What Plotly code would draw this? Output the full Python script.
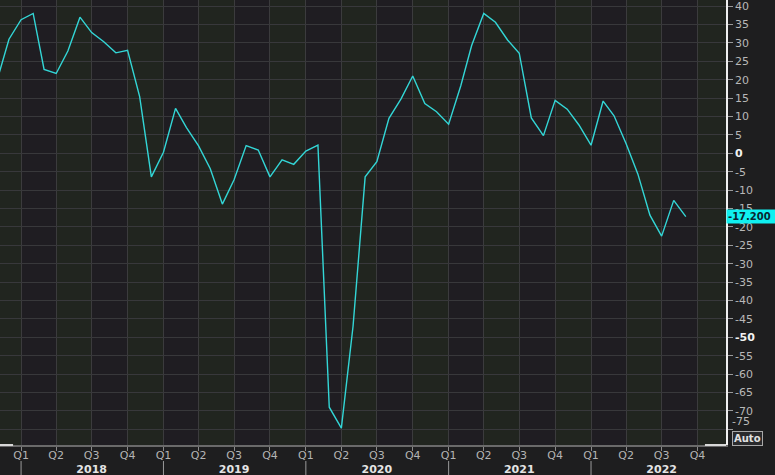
import plotly.graph_objects as go

# ---- data (monthly index) ----
months = [
    "2017-11-01", "2017-12-01",
    "2018-01-01", "2018-02-01", "2018-03-01", "2018-04-01", "2018-05-01", "2018-06-01",
    "2018-07-01", "2018-08-01", "2018-09-01", "2018-10-01", "2018-11-01", "2018-12-01",
    "2019-01-01", "2019-02-01", "2019-03-01", "2019-04-01", "2019-05-01", "2019-06-01",
    "2019-07-01", "2019-08-01", "2019-09-01", "2019-10-01", "2019-11-01", "2019-12-01",
    "2020-01-01", "2020-02-01", "2020-03-01", "2020-04-01", "2020-05-01", "2020-06-01",
    "2020-07-01", "2020-08-01", "2020-09-01", "2020-10-01", "2020-11-01", "2020-12-01",
    "2021-01-01", "2021-02-01", "2021-03-01", "2021-04-01", "2021-05-01", "2021-06-01",
    "2021-07-01", "2021-08-01", "2021-09-01", "2021-10-01", "2021-11-01", "2021-12-01",
    "2022-01-01", "2022-02-01", "2022-03-01", "2022-04-01", "2022-05-01", "2022-06-01",
    "2022-07-01", "2022-08-01", "2022-09-01",
]
values = [
    20.0, 31.0,
    36.3, 38.0, 22.8, 21.7, 27.8, 37.0,
    32.8, 30.3, 27.3, 28.0, 15.4, -6.4,
    0.3, 12.2, 7.0, 2.0, -4.2, -13.8,
    -7.2, 2.1, 0.9, -6.4, -1.8, -3.0,
    0.6, 2.2, -69.0, -74.7, -47.0, -6.4,
    -2.3, 9.5, 14.8, 21.0, 13.5, 11.3,
    7.9, 18.3, 29.3, 38.0, 35.6, 30.8,
    27.2, 9.6, 4.8, 14.4, 12.0, 7.7,
    2.2, 14.2, 10.2, 2.6, -5.6, -16.8,
    -22.5, -12.8, -17.2,
]
years = [2018, 2019, 2020, 2021, 2022]
quarters = ["Q1", "Q2", "Q3", "Q4"]
quarter_months = ["01", "04", "07", "10"]
y_ticks = list(range(-75, 45, 5))
bold_ticks = [0, -50]
last_label = "-17.200"

# ---- tick construction ----
q_vals, q_text = [], []
for yr in years:
    for q, mo in zip(quarters, quarter_months):
        q_vals.append(f"{yr}-{mo}-01")
        if q == "Q3":
            q_text.append(f"{q}<br><span style='color:#e4e4e4'><b>{yr}</b></span>")
        else:
            q_text.append(q)

y_text = []
for v in y_ticks:
    if v == -75:
        y_text.append("")
    elif v in bold_ticks:
        y_text.append(f"<span style='color:#f2f2f2'><b>{v}</b></span>")
    else:
        y_text.append(str(v))

fig = go.Figure()
fig.add_trace(go.Scatter(
    x=months, y=values, mode="lines",
    line=dict(color="#33d6d6", width=1.4),
    hoverinfo="skip",
))

shapes = []
# alternating quarter bands
band_starts = ["2017-10-01"] + q_vals
band_ends = q_vals + ["2023-01-01"]
for a, b in zip(band_starts, band_ends):
    if a[5:7] in ("04", "10"):
        shapes.append(dict(type="rect", xref="x", yref="paper", x0=a, x1=b, y0=0, y1=1,
                           fillcolor="#21251f", line=dict(width=0), layer="below"))
# year separators below the axis
for yr in years:
    shapes.append(dict(type="line", xref="x", yref="paper", x0=f"{yr}-01-01", x1=f"{yr}-01-01",
                       y0=-0.036, y1=-0.075, line=dict(color="#9a9a9a", width=1)))
# bright segments of the bottom axis line
shapes.append(dict(type="line", xref="paper", yref="paper", x0=0, x1=0.018, y0=0, y1=0,
                   line=dict(color="#d8d8d8", width=2)))
shapes.append(dict(type="line", xref="paper", yref="paper", x0=0.971, x1=1, y0=0, y1=0,
                   line=dict(color="#d8d8d8", width=2)))

font_family = "DejaVu Sans"

fig.update_layout(
    width=775, height=475,
    margin=dict(l=0, r=49, t=0, b=30, autoexpand=False),
    paper_bgcolor="#1e1e1f",
    plot_bgcolor="#1f1d22",
    showlegend=False,
    shapes=shapes,
    font=dict(family=font_family, size=11, color="#b8b8b8"),
    xaxis=dict(
        type="date",
        range=["2017-11-08", "2022-12-13"],
        tickmode="array", tickvals=q_vals, ticktext=q_text,
        ticks="outside", ticklen=4, tickcolor="#8a8a8a",
        ticklabelstandoff=-5,
        showgrid=True, gridcolor="#3b3b3d", gridwidth=1,
        showline=True, linecolor="#6a6a6a", linewidth=1.5,
        zeroline=False, automargin=False, ticklabeloverflow="allow",
        tickfont=dict(family=font_family, size=11, color="#b4b4b4"),
        fixedrange=True,
    ),
    yaxis=dict(
        side="right",
        range=[-79.27, 41.66],
        tickmode="array", tickvals=y_ticks, ticktext=y_text,
        ticks="outside", ticklen=5, tickcolor="#9a9a9a",
        showgrid=True, gridcolor="#38383b", gridwidth=1,
        showline=True, linecolor="#f0f0f0", linewidth=1.5,
        zeroline=False, automargin=False, ticklabeloverflow="allow",
        tickfont=dict(family=font_family, size=11, color="#b8b8b8"),
        fixedrange=True,
    ),
    annotations=[
        dict(xref="paper", yref="y", x=1, y=values[-1], xanchor="left", yanchor="middle",
             text=f"<b>{last_label}</b>", showarrow=False, bgcolor="#10f0f0",
             font=dict(family=font_family, size=10, color="#0a2630"),
             borderpad=1, width=48, align="left"),
        dict(xref="paper", yref="paper", x=1, y=0.052, xanchor="left", yanchor="middle",
             xshift=4, text="-75", showarrow=False,
             font=dict(family=font_family, size=11, color="#b8b8b8")),
        dict(xref="paper", yref="paper", x=1, y=0.0157, xanchor="left", yanchor="middle",
             xshift=6, text="<b>Auto</b>", showarrow=False, bgcolor="#2a2a2c",
             bordercolor="#a8a8a8", borderwidth=1, borderpad=1,
             font=dict(family=font_family, size=10, color="#e0e0e0")),
    ],
)

fig.write_html("out.html", config={"displayModeBar": False},
               post_script="document.body.style.margin='0';document.body.style.padding='0';document.body.style.overflow='hidden';")
